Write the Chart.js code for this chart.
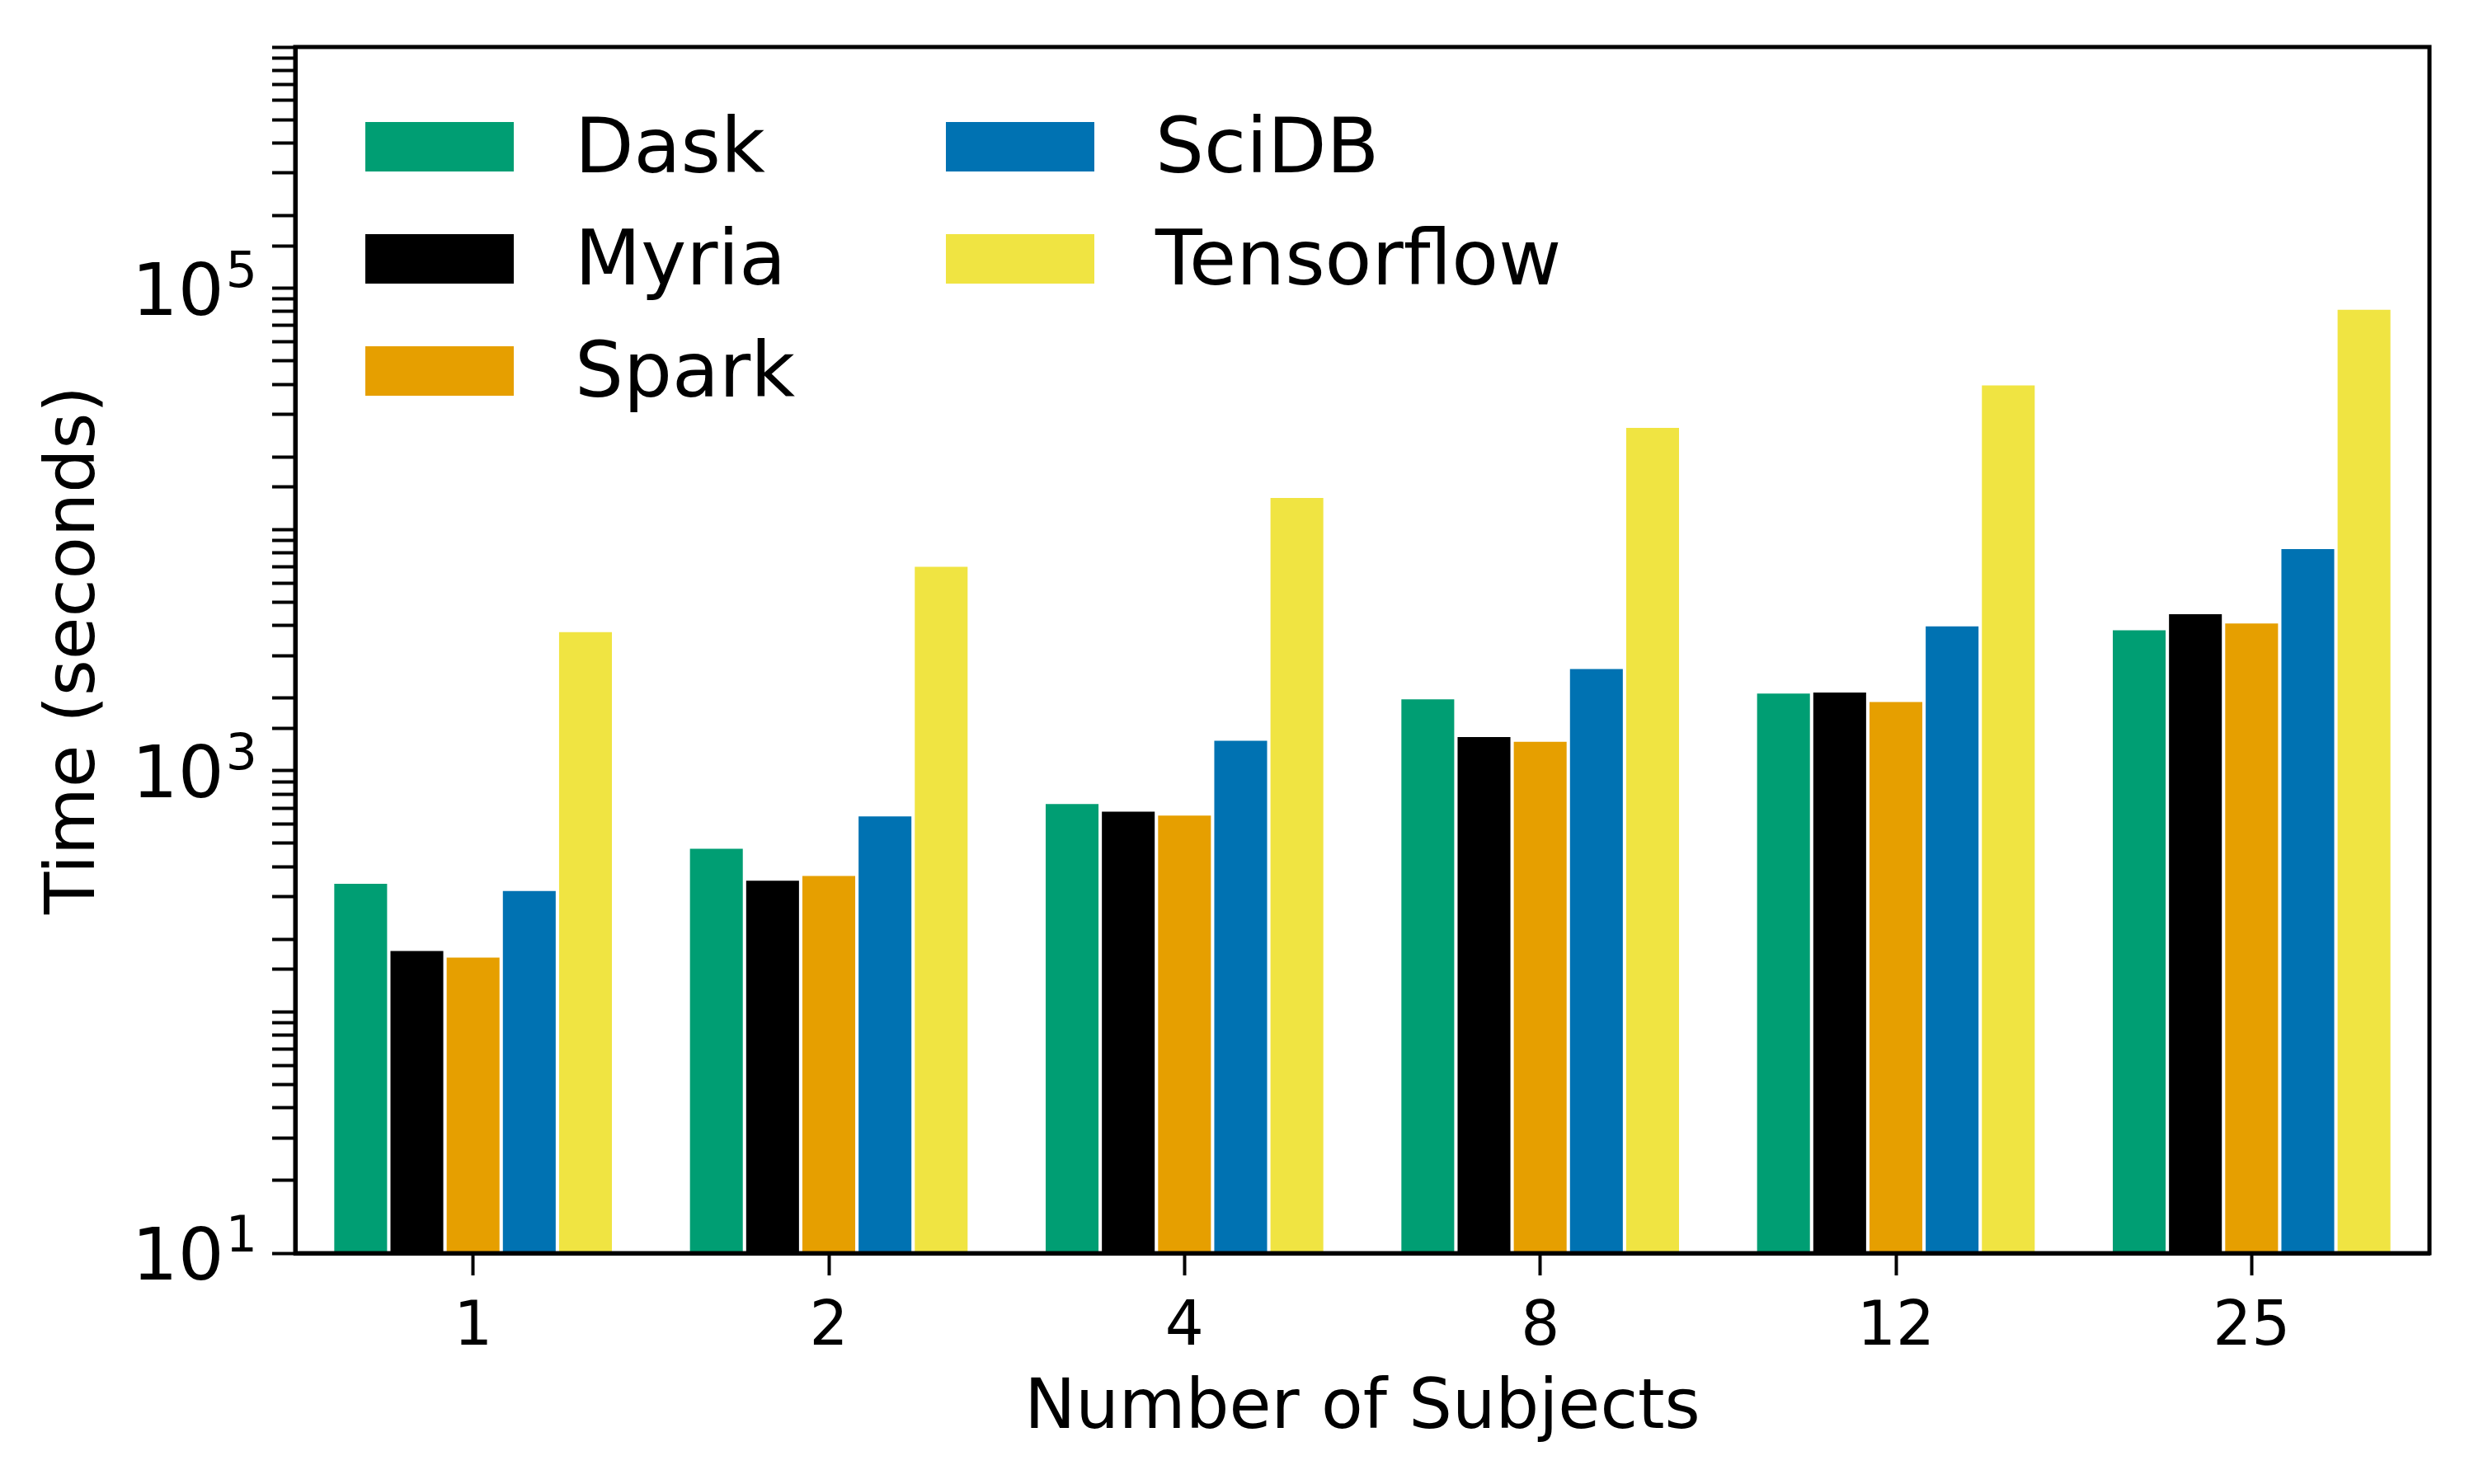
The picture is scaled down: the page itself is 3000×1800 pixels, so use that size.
<!DOCTYPE html>
<html>
<head>
<meta charset="utf-8">
<script src="https://cdn.jsdelivr.net/npm/chart.js@4.4.1/dist/chart.umd.min.js"></script>
<style>
  html, body { margin: 0; padding: 0; background: #fff; }
  #wrap { width: 3000px; height: 1800px; }
</style>
</head>
<body>
<div id="wrap"><canvas id="timeChart" width="3000" height="1800"></canvas></div>
<script>
// Time vs number of subjects (log scale)
const subjects = ['1', '2', '4', '8', '12', '25'];
const systems = ['Dask', 'Myria', 'Spark', 'SciDB', 'Tensorflow'];
const colors = ['#009E73', '#000000', '#E69F00', '#0072B2', '#F0E442'];

const daskTimes = [340, 475, 727, 1977, 2089, 3820];
const myriaTimes = [179, 350, 676, 1378, 2107, 4456];
const sparkTimes = [168, 366, 652, 1318, 1925, 4074];
const scidbTimes = [317, 646, 1330, 2640, 3963, 8300];
const tensorflowTimes = [3753, 7000, 13520, 26360, 39550, 81470];

const labelledExponents = [1, 3, 5];

Chart.defaults.font.family = '"DejaVu Sans", sans-serif';
Chart.defaults.color = '#000';

// box around the plot area (matplotlib spines)
const boxPlugin = {
    id: 'box',
    afterDraw(chart) {
        const a = chart.chartArea;
        const ctx = chart.ctx;
        ctx.save();
        ctx.strokeStyle = '#000';
        ctx.lineWidth = 5;
        ctx.strokeRect(a.left, a.top, a.right - a.left, a.bottom - a.top);
        ctx.restore();
    }
};

// y tick labels written as 10 with a raised exponent
const powerLabels = {
    id: 'powerLabels',
    afterDraw(chart) {
        const y = chart.scales.y;
        const ctx = chart.ctx;
        const right = y.right - 28 - 20;
        ctx.save();
        ctx.fillStyle = '#000';
        ctx.textBaseline = 'alphabetic';
        ctx.textAlign = 'left';
        labelledExponents.forEach(e => {
            const py = y.getPixelForValue(Math.pow(10, e));
            ctx.font = '60px "DejaVu Sans"';
            const expW = ctx.measureText(String(e)).width;
            ctx.font = '88px "DejaVu Sans"';
            const baseW = ctx.measureText('10').width;
            const x0 = right - expW - baseW;
            ctx.fillText('10', x0, py + 32);
            ctx.font = '60px "DejaVu Sans"';
            ctx.fillText(String(e), x0 + baseW + 2, py - 2);
        });
        ctx.restore();
    }
};

// legend inside the plot, two columns filled top to bottom
const innerLegend = {
    id: 'innerLegend',
    afterDraw(chart) {
        const a = chart.chartArea;
        const ctx = chart.ctx;
        ctx.save();
        ctx.font = '93px "DejaVu Sans"';
        ctx.textBaseline = 'middle';
        ctx.textAlign = 'left';
        chart.data.datasets.forEach((ds, i) => {
            const col = Math.floor(i / 3);
            const row = i % 3;
            const x = a.left + 85 + col * 704;
            const y = a.top + 91 + row * 136;
            ctx.fillStyle = ds.backgroundColor;
            ctx.fillRect(x, y, 180, 60);
            ctx.fillStyle = '#000';
            ctx.fillText(ds.label, x + 254, y + 37);
        });
        ctx.restore();
    }
};

const series = [daskTimes, myriaTimes, sparkTimes, scidbTimes, tensorflowTimes];

const ctx = document.getElementById('timeChart').getContext('2d');
const timeChart = new Chart(ctx, {
    type: 'bar',
    data: {
        labels: subjects,
        datasets: systems.map((name, i) => ({
            label: name,
            data: series[i],
            backgroundColor: colors[i],
            borderWidth: 0,
            categoryPercentage: 0.79,
            barPercentage: 0.94
        }))
    },
    options: {
        responsive: false,
        animation: false,
        devicePixelRatio: 1,
        layout: {
            padding: { left: 0, top: 57, right: 54, bottom: 0 }
        },
        plugins: {
            legend: { display: false },
            tooltip: { enabled: false }
        },
        scales: {
            x: {
                offset: true,
                grid: {
                    offset: false,
                    drawOnChartArea: false,
                    drawTicks: true,
                    tickLength: 27,
                    tickWidth: 4,
                    tickColor: '#000'
                },
                border: { display: true, color: '#000', width: 5 },
                ticks: {
                    font: { size: 74 },
                    color: '#000',
                    padding: 20,
                    maxRotation: 0
                },
                title: {
                    display: true,
                    text: 'Number of Subjects',
                    font: { size: 83 },
                    color: '#000',
                    padding: { top: 0, bottom: 40 }
                },
                afterFit(scale) { scale.height = 280; }
            },
            y: {
                type: 'logarithmic',
                min: 10,
                max: 1000000,
                grid: {
                    drawOnChartArea: false,
                    drawTicks: true,
                    tickLength: 28,
                    tickWidth: 4,
                    tickColor: '#000'
                },
                border: { display: true, color: '#000', width: 5 },
                ticks: {
                    autoSkip: false,
                    font: { size: 1 },
                    padding: 0,
                    callback: () => ''
                },
                title: {
                    display: true,
                    text: 'Time (seconds)',
                    font: { size: 84 },
                    color: '#000',
                    padding: { top: 42, bottom: 0 }
                },
                afterFit(scale) { scale.width = 358; }
            }
        }
    },
    plugins: [boxPlugin, powerLabels, innerLegend]
});
</script>
</body>
</html>
